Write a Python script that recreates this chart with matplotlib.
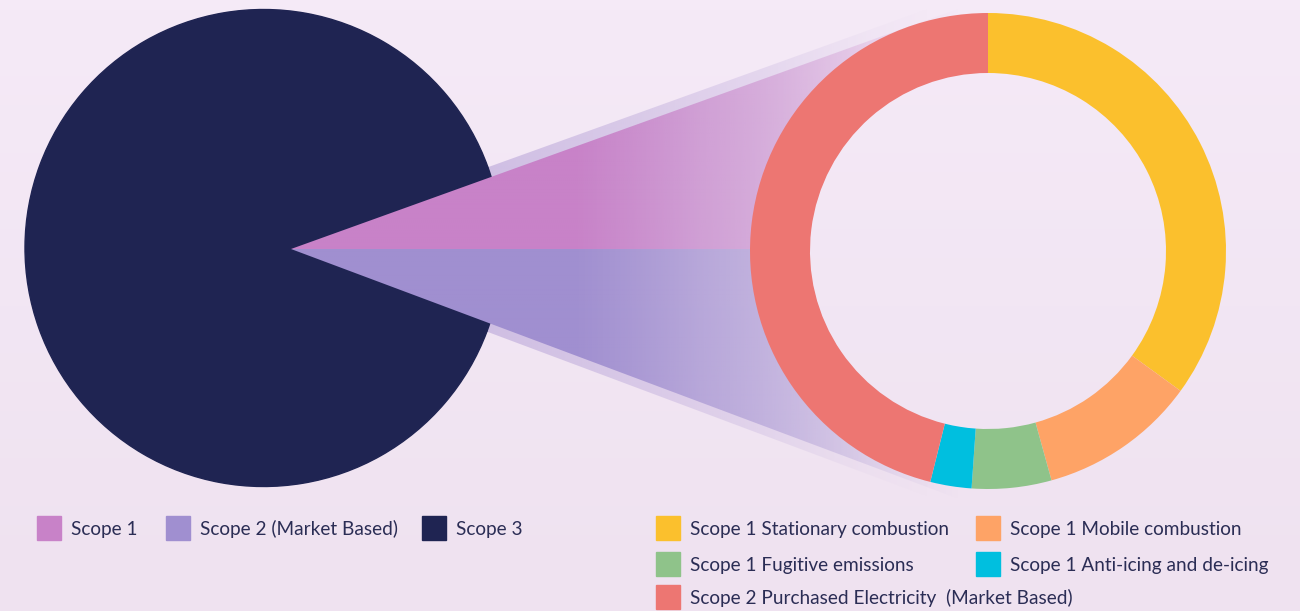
import numpy as np
import matplotlib.pyplot as plt
from matplotlib.patches import Wedge, Circle, Rectangle
from matplotlib.colors import to_rgb

plt.rcParams['font.family'] = ['Lato', 'DejaVu Sans']

# left pie: share of total emissions (%)
scope_labels = ["Scope 1", "Scope 2 (Market Based)", "Scope 3"]
scope_values = [5.5, 5.7, 88.8]
scope_colors = ["#c882c8", "#a08fd0", "#1f2452"]

# right donut: breakdown of scope 1 + scope 2 (%)
detail_labels = ["Scope 1 Stationary combustion", "Scope 1 Mobile combustion",
                 "Scope 1 Fugitive emissions", "Scope 1 Anti-icing and de-icing",
                 "Scope 2 Purchased Electricity  (Market Based)"]
detail_values = [35.0, 10.7, 5.4, 2.8, 46.1]
detail_colors = ["#fbc02d", "#fea366", "#8fc38a", "#00bfdf", "#ed7672"]

W, H = 1300, 611
text_color = "#2b2d55"
bg_top, bg_bot = np.array(to_rgb("#f5eaf7")), np.array(to_rgb("#efe2f0"))

fig = plt.figure(figsize=(13, 6.11), dpi=100)
ax = fig.add_axes([0, 0, 1, 1])
ax.axis("off")

# background gradient
t = np.linspace(0, 1, 64)[:, None, None]
bg = bg_bot * (1 - t) + bg_top * t
bg = np.repeat(bg, 4, axis=1)
ax.imshow(bg, extent=(0, W, 0, H), origin="lower", aspect="auto", zorder=0)


def gradient_patch(patch, color, xs, alphas, z):
    ax.add_patch(patch)
    patch.set_visible(False)
    x = np.linspace(0, W, 650)
    a = np.interp(x, xs, alphas)
    img = np.zeros((2, len(x), 4))
    img[..., :3] = to_rgb(color)
    img[..., 3] = a
    im = ax.imshow(img, extent=(0, W, 0, H), origin="lower", aspect="auto",
                   zorder=z, interpolation="bilinear")
    im.set_clip_path(patch)


pie_c = (263.5, H - 248)
apex = (291, H - 249)
pie_r = 238.5
ang = [v / sum(scope_values) * 360 for v in scope_values]

# soft halo behind the exploded slices
gradient_patch(Wedge(pie_c, 760, -ang[1], ang[0]), "#c6b4df",
               [480, 620, 760, 870, 930], [0.8, 0.6, 0.35, 0.08, 0.0], 1)

# main pie (Scope 3 plus the part the slices start from)
ax.pie([scope_values[1], scope_values[0], scope_values[2]], colors=[scope_colors[2]] * 3,
       startangle=-ang[1], radius=pie_r, center=pie_c,
       wedgeprops=dict(linewidth=1, edgecolor=scope_colors[2]))

# Scope 1 and Scope 2 slices running out to the donut
fade_x = [575, 700, 780, 850, 900, 960]
fade_a = [1.0, 0.62, 0.45, 0.28, 0.12, 0.0]
gradient_patch(Wedge(apex, 760, 0, ang[0]), scope_colors[0], fade_x, fade_a, 3)
gradient_patch(Wedge(apex, 760, -ang[1], 0), scope_colors[1], fade_x, fade_a, 3)

# donut
don_c = (988, H - 251)
wedges, _ = ax.pie(detail_values, colors=detail_colors, startangle=90, counterclock=False,
                   radius=238, center=don_c, wedgeprops=dict(width=60, linewidth=0))
for w in wedges:
    w.set_zorder(5)
hole = Circle(don_c, 178.5, transform=ax.transData)
ax.add_patch(hole)
hole.set_visible(False)
him = ax.imshow(bg, extent=(0, W, 0, H), origin="lower", aspect="auto", zorder=4)
him.set_clip_path(hole)

# legends
sq = 24
fs = 13.7
left_x = [37, 166, 422]
for lab, col, x in zip(scope_labels, scope_colors, left_x):
    ax.add_patch(Rectangle((x, H - 528 - sq / 2), sq, sq, color=col, zorder=6))
    ax.text(x + sq + 10, H - 529, lab, fontsize=fs, color=text_color, va="center", zorder=6)

right_pos = [(656, 528), (976, 528), (656, 564), (976, 564), (656, 597)]
for lab, col, (x, y) in zip(detail_labels, detail_colors, right_pos):
    ax.add_patch(Rectangle((x, H - y - sq / 2), sq, sq, color=col, zorder=6))
    ax.text(x + sq + 10, H - y - 1, lab, fontsize=fs, color=text_color, va="center", zorder=6)

ax.set_xlim(0, W)
ax.set_ylim(0, H)
ax.set_aspect("auto")
fig.savefig("out.png", dpi=100)
